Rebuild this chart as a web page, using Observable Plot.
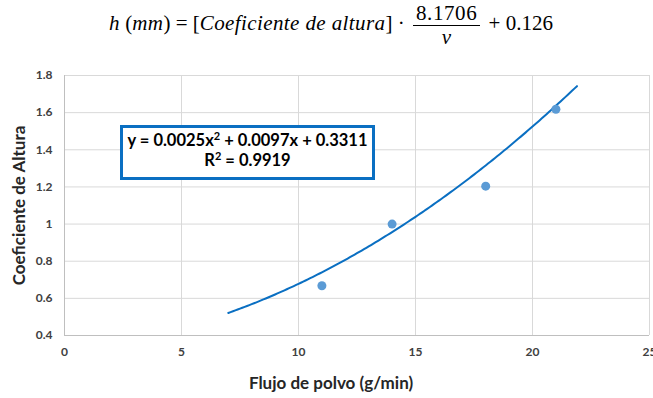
<!DOCTYPE html>
<html><head><meta charset="utf-8">
<script src="https://cdn.jsdelivr.net/npm/d3@7"></script>
<script src="https://cdn.jsdelivr.net/npm/@observablehq/plot@0.6"></script>
<style>
body{margin:0;background:#fff;width:653px;height:398px;overflow:hidden;position:relative;font-family:Lato,"Open Sans",sans-serif;}
#title{position:absolute;left:0;top:2px;width:662px;text-align:center;font-family:"Liberation Serif","DejaVu Serif",serif;font-size:21px;color:#000;white-space:nowrap;}
#title i{font-style:italic;letter-spacing:0.4px;}
.frac{display:inline-block;vertical-align:middle;text-align:center;margin:0 3px;}
.frac .num{display:block;border-bottom:1px solid #000;padding:0 3px;line-height:23px;letter-spacing:0.6px;}
.frac .den{display:block;line-height:22px;}
#chart{position:absolute;left:0;top:60px;}
#eq{position:absolute;left:120px;top:125px;width:249px;height:47px;border:3px solid #0a6fc2;background:#fff;text-align:center;font-family:Lato,sans-serif;font-weight:bold;font-size:16.5px;line-height:20px;color:#000;padding-top:2px;box-sizing:content-box;white-space:nowrap;}
</style></head>
<body>
<div id="title"><i>h</i> (<i>mm</i>) = [<i>Coeficiente de altura</i>] · <span class="frac"><span class="num">8.1706</span><span class="den"><i>v</i></span></span> + 0.126</div>
<div id="chart"></div>
<div id="eq">y = 0.0025x<sup style="font-size:11px;line-height:0">2</sup> + 0.0097x + 0.3311<br>R<sup style="font-size:11px;line-height:0">2</sup> = 0.9919</div>
<script>
const flujo = [11, 14, 18, 21];
const coef = [0.668, 1.0, 1.204, 1.618];
const trendCoef = [0.0025, 0.0097, 0.3311]; // a, b, c from the chart's equation
const trendRange = [7, 21.9];
const xTicks = [0, 5, 10, 15, 20, 25];
const yTicks = [0.4, 0.6, 0.8, 1.0, 1.2, 1.4, 1.6, 1.8];
const xLabel = "Flujo de polvo (g/min)";
const yLabel = "Coeficiente de Altura";

const points = flujo.map((x, i) => ({x, y: coef[i]}));
const trend = d3.range(trendRange[0], trendRange[1] + 1e-9, 0.1).map(x => ({x, y: trendCoef[0]*x*x + trendCoef[1]*x + trendCoef[2]}));

const chart = Plot.plot({
  width: 653, height: 338,
  marginTop: 15, marginBottom: 63, marginLeft: 64, marginRight: 4,
  style: {fontFamily: "Lato, sans-serif", fontSize: "12px", fontWeight: "bold", color: "#404040", overflow: "visible"},
  x: {domain: [0, 25], ticks: xTicks, label: null},
  y: {domain: [0.4, 1.8], ticks: yTicks, label: null},
  marks: [
    Plot.gridX(xTicks, {stroke: "#d9d9d9", strokeOpacity: 1, strokeWidth: 1}),
    Plot.gridY(yTicks, {stroke: "#d9d9d9", strokeOpacity: 1, strokeWidth: 1}),
    Plot.ruleX([0], {stroke: "#bfbfbf"}),
    Plot.ruleY([0.4], {stroke: "#bfbfbf"}),
    Plot.axisX(xTicks, {tickSize: 0, tickPadding: 12, fill: "#404040", fontWeight: "bold", fontSize: 12}),
    Plot.axisY(yTicks, {tickSize: 0, tickPadding: 12, fill: "#404040", fontWeight: "bold", fontSize: 12, tickFormat: d => String(d)}),
    Plot.text([xLabel], {frameAnchor: "bottom", dy: 48, dx: -26, fontSize: 17, fontWeight: "bold", fill: "#262626", lineAnchor: "middle"}),
    Plot.text([yLabel], {frameAnchor: "left", dx: -45, rotate: -90, textAnchor: "middle", fontSize: 17, fontWeight: "bold", fill: "#262626", lineAnchor: "middle"}),
    Plot.line(trend, {x: "x", y: "y", stroke: "#0a6fc2", strokeWidth: 2, curve: "natural"}),
    Plot.dot(points, {x: "x", y: "y", r: 4.5, fill: "#5b9bd5", stroke: "none"})
  ]
});
document.getElementById("chart").appendChild(chart);
</script>
</body></html>
